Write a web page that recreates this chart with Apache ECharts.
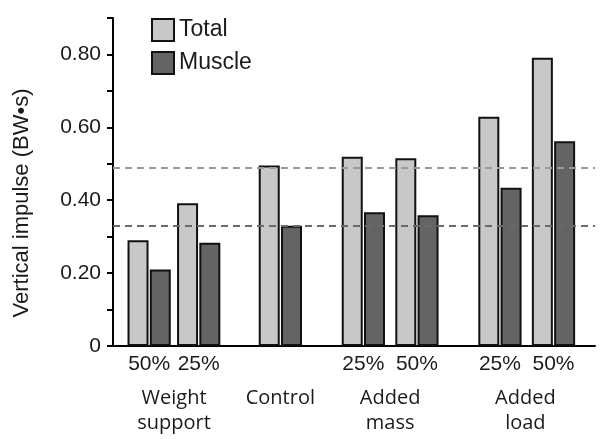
<!DOCTYPE html>
<html>
<head>
<meta charset="utf-8">
<script src="https://cdn.jsdelivr.net/npm/echarts@6/dist/echarts.min.js"></script>
<style>html,body{margin:0;padding:0;background:#fff}#c{width:603px;height:439px}</style>
</head>
<body>
<div id="c"></div>
<script>
// Condition labels (one per bar pair) and their positions on the x scale
var conditionLabels = ['50%', '25%', '', '25%', '50%', '25%', '50%'];
var conditionPos = [1.35, 3.2, 6.25, 9.35, 11.35, 14.45, 16.45];
// Group labels and their positions
var groupLabels = ['Weight\nsupport', 'Control', 'Added\nmass', 'Added\nload'];
var groupPos = [2.28, 6.25, 10.35, 15.4];
// Series values (BW·s)
var totalValues = [0.29, 0.392, 0.495, 0.519, 0.515, 0.629, 0.791];
var muscleValues = [0.21, 0.283, 0.33, 0.367, 0.359, 0.434, 0.562];
// Y tick labels
var yTickValues = [0, 0.2, 0.4, 0.6, 0.8];
var yTickLabels = ['0', '0.20', '0.40', '0.60', '0.80'];
var controlIndex = 2;

var chart = echarts.init(document.getElementById('c'), null, {renderer: 'canvas'});
var txt = '#1a1a1a';
function pairs(vals) { return vals.map(function (v, i) { return [conditionPos[i], v]; }); }

chart.setOption({
  animation: false,
  backgroundColor: '#fff',
  grid: {left: 113, right: 8, top: 18, bottom: 93},
  legend: {
    orient: 'vertical', left: 146, top: 13,
    itemWidth: 22, itemHeight: 22, itemGap: 9,
    icon: 'rect',
    textStyle: {fontFamily: 'Liberation Sans', fontSize: 23, color: txt},
    data: ['Total', 'Muscle']
  },
  xAxis: [{
    type: 'value', min: 0, max: 18,
    axisLine: {show: true, lineStyle: {color: '#000', width: 2}},
    axisTick: {show: false},
    splitLine: {show: false},
    axisLabel: {
      customValues: conditionPos, margin: 8,
      fontFamily: 'Liberation Sans', fontSize: 21, color: txt,
      formatter: function (v) { var i = conditionPos.indexOf(v); return i >= 0 ? conditionLabels[i] : ''; }
    }
  }, {
    type: 'value', min: 0, max: 18, position: 'bottom',
    axisLine: {show: false}, axisTick: {show: false}, splitLine: {show: false},
    axisLabel: {
      customValues: groupPos, margin: 40,
      fontFamily: 'Open Sans', fontSize: 20, lineHeight: 25, color: txt,
      formatter: function (v) { var i = groupPos.indexOf(v); return i >= 0 ? groupLabels[i] : ''; }
    }
  }],
  yAxis: {
    type: 'value', min: 0, max: 0.9, interval: 0.1,
    name: 'Vertical impulse (BW•s)', nameLocation: 'middle', nameGap: 80,
    nameTextStyle: {fontFamily: 'Liberation Sans', fontSize: 22, color: txt, padding: [0, 42, 0, 0]},
    axisLine: {show: true, lineStyle: {color: '#000', width: 2}},
    axisTick: {show: true, inside: false, length: 6, lineStyle: {color: '#000', width: 2}},
    splitLine: {show: false},
    axisLabel: {
      customValues: yTickValues, margin: 12,
      fontFamily: 'Liberation Sans', fontSize: 21, color: txt,
      formatter: function (v) { var i = yTickValues.indexOf(v); return i >= 0 ? yTickLabels[i] : ''; }
    }
  },
  series: [{
    name: 'Total', type: 'bar', xAxisIndex: 0,
    barWidth: 21, barGap: '6%',
    itemStyle: {color: '#c8c8c8', borderColor: '#111', borderWidth: 2},
    data: pairs(totalValues)
  }, {
    name: 'Muscle', type: 'bar', xAxisIndex: 0,
    barWidth: 21, barGap: '6%',
    itemStyle: {color: '#646464', borderColor: '#111', borderWidth: 2},
    data: pairs(muscleValues),
    markLine: {
      silent: true, symbol: 'none', z: 10, label: {show: false},
      data: [
        {yAxis: totalValues[controlIndex], lineStyle: {color: '#9a9a9a', type: [7, 5], width: 2}},
        {yAxis: muscleValues[controlIndex], lineStyle: {color: '#6a6a6a', type: [7, 5], width: 2}}
      ]
    }
  }]
});
</script>
</body>
</html>
